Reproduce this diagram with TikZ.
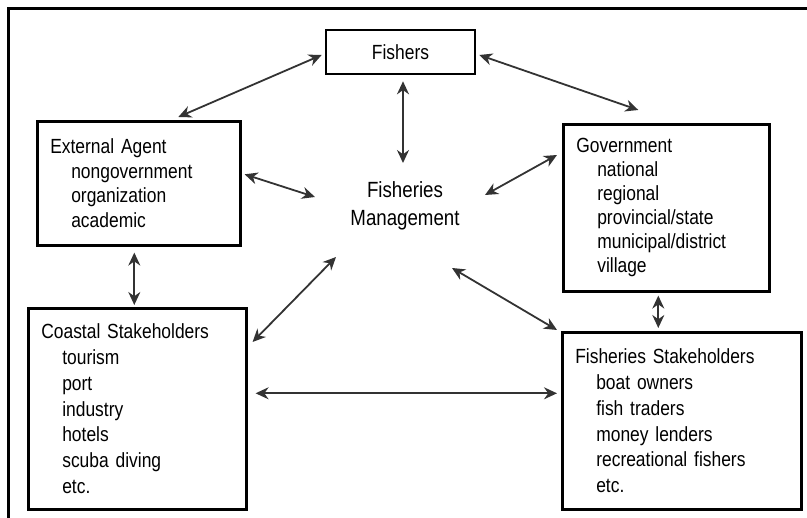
\documentclass[tikz,border=0pt]{standalone}
\usepackage{fontspec}
\setmainfont{Liberation Sans}[FakeStretch=0.85, WordSpace=0.85]
\usetikzlibrary{arrows.meta,calc}

\newcommand{\subline}{\hspace*{21pt}}

\begin{document}
\begin{tikzpicture}[x=1pt, y=-1pt,
  box/.style={draw, line width=2.6pt, anchor=north west, align=left,
    inner xsep=13pt, inner ysep=0pt, font=\fontsize{20.5}{24.5}\selectfont},
  conn/.style={{Stealth[length=13pt,width=12pt]}-{Stealth[length=13pt,width=12pt]},
    line width=1.8pt, black!80}]

  \useasboundingbox (0,0) rectangle (807,518);
  % outer frame, runs off the page on the right and below
  \draw[line width=3pt] (8,9) rectangle (830,540);

  \node[box, anchor=center, align=center, minimum width=149pt, minimum height=44pt,
        inner xsep=0pt] (fishers) at (400.5,52) {Fishers};
  \node[font=\fontsize{22}{28}\selectfont, align=center] (mgmt) at (405,206)
        {Fisheries\\Management};

  \node[box, text width=177pt, minimum height=124pt] (ext) at (36,120)
        {External Agent\\\subline nongovernment\\\subline organization\\\subline academic};
  \node[box, text width=180pt, minimum height=167pt,
        font=\fontsize{20.5}{24}\selectfont] (gov) at (562,123)
        {Government\\\subline national\\\subline regional\\\subline provincial/state\\%
         \subline municipal/district\\\subline village};
  \node[box, text width=192pt, minimum height=201pt,
        font=\fontsize{20.5}{25.8}\selectfont] (coast) at (27,307)
        {Coastal Stakeholders\\\subline tourism\\\subline port\\\subline industry\\%
         \subline hotels\\\subline scuba diving\\\subline etc.};
  \node[box, text width=213pt, minimum height=177pt,
        font=\fontsize{20.5}{25.8}\selectfont] (fstake) at (561,331)
        {Fisheries Stakeholders\\\subline boat owners\\\subline fish traders\\%
         \subline money lenders\\\subline recreational fishers\\\subline etc.};

  % links
  \draw[conn] ($(fishers.west)+(-3,3)$) -- ($(ext.north)+(39.5,-3)$);
  \draw[conn] ($(fishers.east)+(3,3)$) -- ($(gov.north)+(-28,-13)$);
  \draw[conn] ($(fishers.south)+(2.5,6)$) -- ($(mgmt.center)+(-2,-43)$);
  \draw[conn] ($(ext.east)+(3,-9)$) -- ($(mgmt.center)+(-90,-9)$);
  \draw[conn] ($(gov.north west)+(-5,32)$) -- ($(mgmt.center)+(80,-11)$);
  \draw[conn] ($(ext.south)+(-4.5,6)$) -- ($(coast.north)+(-3,-2)$);
  \draw[conn] ($(coast.north east)+(5,35)$) -- ($(mgmt.center)+(-69,51)$);
  \draw[conn] ($(coast.east)+(8,-15.5)$) -- ($(fstake.west)+(-4,-27.5)$);
  \draw[conn] ($(mgmt.center)+(47,62)$) -- ($(fstake.north west)+(-4,-1)$);
  \draw[conn] ($(gov.south)+(-8,3)$) -- ($(fstake.north)+(-23.5,-3)$);

\end{tikzpicture}
\end{document}
